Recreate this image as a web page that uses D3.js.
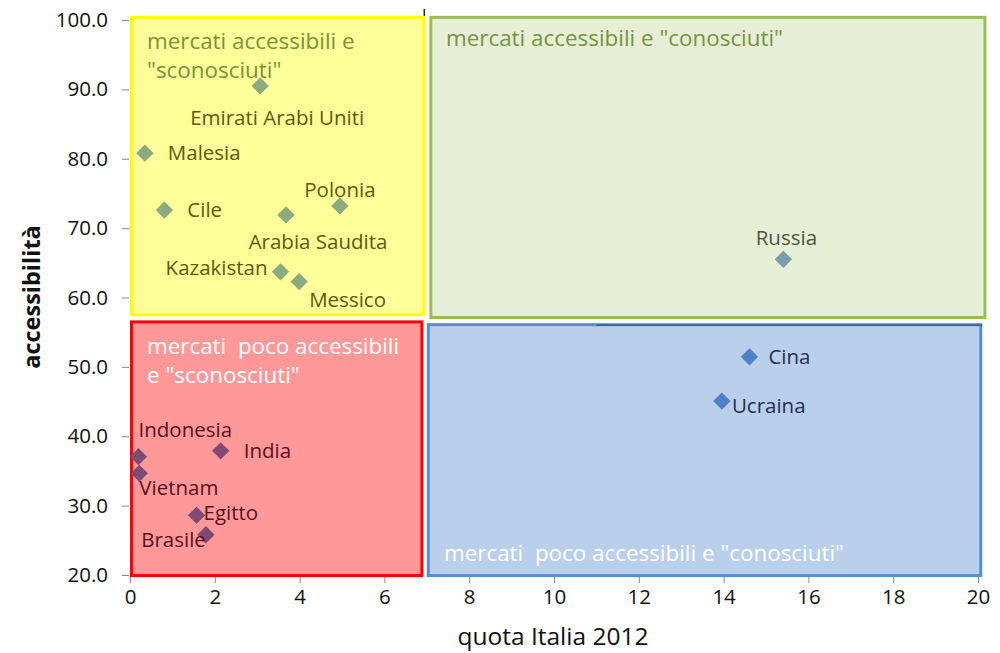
<!DOCTYPE html>
<html><head><meta charset="utf-8">
<script src="https://cdn.jsdelivr.net/npm/d3@7"></script>
<style>body{margin:0;background:#fff}svg{display:block}text{font-family:"Open Sans",sans-serif}</style>
</head><body>
<svg id="c" width="1000" height="653"></svg>
<script>
// ---- data ----
const countries = ["Emirati Arabi Uniti","Malesia","Cile","Polonia","Arabia Saudita","Kazakistan","Messico","Russia","Indonesia","Vietnam","India","Egitto","Brasile","Cina","Ucraina"];
const quota = [3.07,0.35,0.81,4.95,3.68,3.55,3.99,15.41,0.20,0.22,2.14,1.57,1.79,14.61,13.96];
const accessibilita = [90.5,80.8,72.6,73.2,71.9,63.7,62.3,65.5,37.05,34.65,37.9,28.6,25.8,51.45,45.07];
const group = ["ys","ys","ys","ys","ys","ys","ys","gc","rs","rs","rs","rs","rs","bc","bc"];
const xTicks = [0,2,4,6,8,10,12,14,16,18,20];
const yTicks = [20,30,40,50,60,70,80,90,100];
const quadrantTitles = {
  ys:['mercati accessibili e','"sconosciuti"'],
  gc:['mercati accessibili e "conosciuti"'],
  rs:['mercati  poco accessibili','e "sconosciuti"'],
  bc:['mercati  poco accessibili e "conosciuti"']
};
const xSplit = 7, ySplit = 56.8;

// ---- layout / style ----
const svg = d3.select("#c");
const x = d3.scaleLinear().domain([0,20]).range([130,978]);
const y = d3.scaleLinear().domain([20,100]).range([575,20]);
const style = {
  ys:{fill:"#ffff99",stroke:"#ffff00",mark:"#8caa80",label:"#5c5a0c",title:"#77933c"},
  gc:{fill:"#e6eed6",stroke:"#9bbb59",mark:"#7a9eab",label:"#4d5445",title:"#77933c"},
  rs:{fill:"#ff9999",stroke:"#ff0000",mark:"#7f4b74",label:"#5a0f1f",title:"#ffffff"},
  bc:{fill:"#b9cfeb",stroke:"#558ed5",mark:"#4f81c7",label:"#1f2f4f",title:"#ffffff"}
};
// label placement (pixel offsets, anchor)
const place = {
  "Emirati Arabi Uniti":[17,39,"middle"],"Malesia":[23,7,"start"],"Cile":[23,7,"start"],
  "Polonia":[0,-9,"middle"],"Arabia Saudita":[32,34,"middle"],"Kazakistan":[-13,3,"end"],
  "Messico":[10,25,"start"],"Russia":[3,-14,"middle"],"Indonesia":[0,-20,"start"],
  "Vietnam":[0,22,"start"],"India":[23,7,"start"],"Egitto":[7,5,"start"],
  "Brasile":[0,12,"end"],"Cina":[19,7,"start"],"Ucraina":[10,12,"start"]
};

// divider stub at top (behind)
svg.append("line").attr("x1",x(xSplit)-2.5).attr("x2",x(xSplit)-2.5).attr("y1",9).attr("y2",y(100))
  .attr("stroke","#222").attr("stroke-width",1.5);

// quadrant rectangles
const quads = [
  {k:"ys",x0:0,x1:xSplit-0.03,y0:ySplit+0.5,y1:100.6},
  {k:"gc",x0:xSplit+0.06,x1:20.2,y0:ySplit+0.1,y1:100.6},
  {k:"rs",x0:0,x1:xSplit-0.08,y0:19.7,y1:ySplit-0.1},
  {k:"bc",x0:xSplit,x1:20.1,y0:19.7,y1:ySplit-0.5}
];
svg.selectAll("rect.q").data(quads).join("rect").attr("class","q")
  .attr("x",d=>x(d.x0)+1.5).attr("y",d=>y(d.y1)+1.5)
  .attr("width",d=>x(d.x1)-x(d.x0)-3).attr("height",d=>y(d.y0)-y(d.y1)-3)
  .attr("fill",d=>style[d.k].fill).attr("stroke",d=>style[d.k].stroke).attr("stroke-width",3);

// horizontal divider showing through blue top border
svg.append("line").attr("x1",x(11)).attr("x2",x(20.1)).attr("y1",y(ySplit-0.5)+2).attr("y2",y(ySplit-0.5)+2)
  .attr("stroke","#2b3f66").attr("stroke-width",1.2).attr("opacity",0.7);

// quadrant titles
const titlePos = {ys:[147,49],gc:[446,46],rs:[147,354],bc:[444,561]};
Object.keys(quadrantTitles).forEach(k=>{
  const t = svg.append("text").attr("x",titlePos[k][0]).attr("y",titlePos[k][1])
    .attr("fill",style[k].title).attr("font-size",22.4).attr("xml:space","preserve");
  quadrantTitles[k].forEach((line,i)=>t.append("tspan").attr("x",titlePos[k][0]).attr("dy",i?29:0).text(line));
});

// axes
const gx = svg.append("g").attr("transform",`translate(0,${y(20)+2})`)
  .call(d3.axisBottom(x).tickValues(xTicks).tickSize(6).tickPadding(6).tickFormat(d3.format("d")));
const gy = svg.append("g").attr("transform",`translate(${x(0)-1},0)`)
  .call(d3.axisLeft(y).tickValues(yTicks).tickSize(7).tickPadding(14).tickFormat(d3.format(".1f")));
[gx,gy].forEach(g=>{
  g.select(".domain").remove();
  g.selectAll(".tick line").attr("stroke","#888");
  g.selectAll(".tick text").attr("font-size",20.5).attr("fill","#111").attr("font-family","Open Sans");
});

svg.append("text").attr("transform","translate(40,297) rotate(-90)").attr("text-anchor","middle")
  .attr("font-size",23.5).attr("font-weight","bold").attr("fill","#111").text("accessibilità");
svg.append("text").attr("x",553).attr("y",645).attr("text-anchor","middle")
  .attr("font-size",24.5).attr("fill","#111").text("quota Italia 2012");

// points
const pts = countries.map((c,i)=>({c,x:quota[i],y:accessibilita[i],g:group[i]}));
svg.selectAll("path.pt").data(pts).join("path").attr("class","pt")
  .attr("d",d3.symbol().type(d3.symbolSquare).size(150))
  .attr("transform",d=>`translate(${x(d.x)},${y(d.y)}) rotate(45)`)
  .attr("fill",d=>style[d.g].mark);
svg.selectAll("text.lb").data(pts).join("text").attr("class","lb")
  .attr("x",d=>x(d.x)+place[d.c][0]).attr("y",d=>y(d.y)+place[d.c][1])
  .attr("text-anchor",d=>place[d.c][2]).attr("font-size",20.5)
  .attr("fill",d=>style[d.g].label).text(d=>d.c);
</script>
</body></html>
